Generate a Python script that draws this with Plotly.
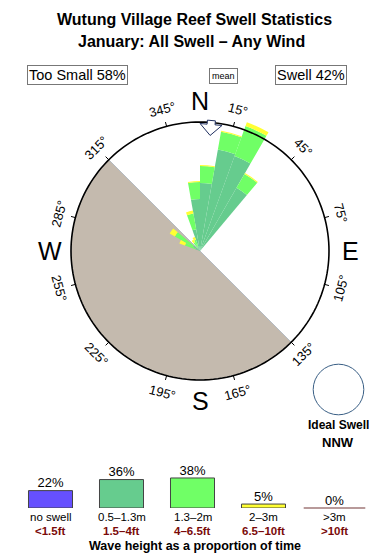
import math
import plotly.graph_objects as go

# ---------------- data ----------------
DIRS = [295, 305, 325, 335, 345, 355, 5, 15, 25, 35]          # bin centres (deg)
BIN_WIDTH = 10
BAND_05_13 = [0.5, 0.8, 0.4, 0.6, 2.2, 5.2, 6.8, 10.3, 10.1, 7.3]
BAND_13_2 = [1.1, 2.1, 0.6, 0.6, 1.6, 1.7, 1.7, 1.8, 3.2, 1.6]
BAND_2_3 = [0.6, 0.6, 0.3, 0.3, 0.3, 0.1, 0.1, 0.1, 0.4, 0.1]
BAND_NAMES = ["0.5–1.3m", "1.3–2m", "2–3m"]
BAND_COLORS = ["#66cc8e", "#70ff66", "#ffff33"]

CIRCLE_R = 12.9
R_MAX = 14.0
MEAN_DIR = 5
SHADE_CENTER, SHADE_WIDTH = 225, 180

TICK_ANGLES = [15, 45, 75, 105, 135, 165, 195, 225, 255, 285, 315, 345]
COMPASS = [("N", 0), ("E", 90), ("S", 180), ("W", 270)]

LEG_LABELS = ["no swell", "0.5–1.3m", "1.3–2m", "2–3m", ">3m"]
LEG_FT = ["&lt;1.5ft", "1.5–4ft", "4–6.5ft", "6.5–10ft", "&gt;10ft"]
LEG_PCT = [22, 36, 38, 5, 0]
LEG_COLORS = ["#6650ff", "#66cc8e", "#70ff66", "#ffff33", "#b89a9a"]

TOO_SMALL = 58
SWELL = 42
IDEAL = "NNW"

# ---------------- geometry ----------------
W, H = 390, 560
CX, CY = 200, 251
R_OUT_PX = 140
PX_PER_UNIT = R_OUT_PX / R_MAX
FONT = "Liberation Sans, Arial, sans-serif"


def px(x):
    return x / W


def py(y):
    return 1 - y / H


def polar_to_paper(theta, r_px):
    t = math.radians(theta)
    return px(CX + r_px * math.sin(t)), py(CY - r_px * math.cos(t))


fig = go.Figure()

# shaded (off-shore) sector
fig.add_trace(go.Barpolar(r=[CIRCLE_R], theta=[SHADE_CENTER], width=[SHADE_WIDTH],
                          marker=dict(color="#c4baae", line=dict(color="#aab4c0", width=0.8)),
                          hoverinfo="skip", showlegend=False))

# stacked rose bars
for vals, name, col in zip([BAND_05_13, BAND_13_2, BAND_2_3], BAND_NAMES, BAND_COLORS):
    fig.add_trace(go.Barpolar(r=vals, theta=DIRS, width=[BIN_WIDTH] * len(DIRS), name=name,
                              marker=dict(color=col, line=dict(width=0)), showlegend=False))

# outer circle
circ_theta = list(range(0, 361, 2))
fig.add_trace(go.Scatterpolar(r=[CIRCLE_R] * len(circ_theta), theta=circ_theta, mode="lines",
                              line=dict(color="black", width=1.6), hoverinfo="skip", showlegend=False))

# ticks
tr, tt = [], []
for a in TICK_ANGLES:
    tr += [CIRCLE_R, CIRCLE_R + 0.45, None]
    tt += [a, a, None]
fig.add_trace(go.Scatterpolar(r=tr, theta=tt, mode="lines", line=dict(color="black", width=1),
                              hoverinfo="skip", showlegend=False))

# mean direction arrow (along-radius px, lateral px)
arrow_local = [(131, -4), (131, 4), (127, 4), (127, 11), (116, 0), (127, -11), (127, -4), (131, -4)]
ar, at = [], []
for a, b in arrow_local:
    ar.append(math.hypot(a, b) / PX_PER_UNIT)
    at.append(MEAN_DIR + math.degrees(math.atan2(b, a)))
fig.add_trace(go.Scatterpolar(r=ar, theta=at, mode="lines", fill="toself", fillcolor="white",
                              line=dict(color="#1f2f5f", width=1), hoverinfo="skip", showlegend=False))

# legend bars
xs = list(range(len(LEG_PCT)))
fig.add_trace(go.Bar(x=xs, y=LEG_PCT, width=0.62, xaxis="x2", yaxis="y2",
                     marker=dict(color=LEG_COLORS, line=dict(color="#444444", width=1)),
                     showlegend=False, hoverinfo="skip"))
fig.add_trace(go.Scatter(x=[xs[-1]], y=[LEG_PCT[-1]], xaxis="x2", yaxis="y2", mode="markers",
                         marker=dict(symbol="line-ew", size=44, line=dict(color=LEG_COLORS[-1], width=2)),
                         showlegend=False, hoverinfo="skip", cliponaxis=False))
fig.add_trace(go.Scatter(x=xs, y=LEG_PCT, xaxis="x2", yaxis="y2", mode="text",
                         text=[f"{p}%" for p in LEG_PCT], textposition="top center",
                         textfont=dict(size=13, color="black", family=FONT),
                         showlegend=False, hoverinfo="skip", cliponaxis=False))

annotations = []


def ann(x, y, text, size, bold=False, color="black", **kw):
    t = f"<b>{text}</b>" if bold else text
    d = dict(x=x, y=y, xref=kw.pop("xref", "paper"), yref="paper", text=t, showarrow=False,
             font=dict(size=size, color=color, family=FONT), xanchor="center", yanchor="middle")
    d.update(kw)
    annotations.append(d)


ann(px(194), py(20), "Wutung Village Reef Swell Statistics", 16, bold=True)
ann(px(191), py(42), "January: All Swell – Any Wind", 16, bold=True)
ann(px(77), py(75), f"Too Small {TOO_SMALL}%", 14.5, bordercolor="#777777", borderwidth=1,
    borderpad=1, bgcolor="white")
ann(px(311), py(75), f"Swell {SWELL}%", 14.5, bordercolor="#777777", borderwidth=1,
    borderpad=1, bgcolor="white")
ann(px(224), py(76), "mean", 9, bordercolor="#777777", borderwidth=1, borderpad=2, bgcolor="white")

for a in TICK_ANGLES:
    x, y = polar_to_paper(a, 146)
    ang = a if (a < 90 or a > 270) else a - 180
    if ang > 180:
        ang -= 360
    ann(x, y, f"{a}°", 13, textangle=ang)

for lab, a in COMPASS:
    x, y = polar_to_paper(a, 150)
    ann(x, y, lab, 25)

ann(px(338), py(425), "Ideal Swell", 12, bold=True)
ann(px(338), py(442), IDEAL, 13, bold=True)

for i, (l, f) in enumerate(zip(LEG_LABELS, LEG_FT)):
    ann(i, py(517), l, 11.5, xref="x2")
    ann(i, py(531), f, 11.5, bold=True, color="#7a0a0a", xref="x2")
ann(px(195), py(546), "Wave height as a proportion of time", 12.5, bold=True)

fig.update_layout(
    width=W, height=H, margin=dict(l=0, r=0, t=0, b=0),
    paper_bgcolor="white", plot_bgcolor="white",
    font=dict(family=FONT),
    polar=dict(
        domain=dict(x=[px(CX - R_OUT_PX), px(CX + R_OUT_PX)],
                    y=[py(CY + R_OUT_PX), py(CY - R_OUT_PX)]),
        bgcolor="rgba(0,0,0,0)", barmode="stack",
        radialaxis=dict(range=[0, R_MAX], visible=False),
        angularaxis=dict(rotation=90, direction="clockwise", showline=False, showgrid=False,
                         showticklabels=False, ticks=""),
    ),
    xaxis2=dict(domain=[px(15), px(370)], range=[-0.5, 4.5], visible=False, anchor="y2"),
    yaxis2=dict(domain=[py(508), py(468.5)], range=[0, 50], visible=False, anchor="x2"),
    annotations=annotations,
    shapes=[dict(type="circle", xref="paper", yref="paper",
                 x0=px(338.5 - 25.3), x1=px(338.5 + 25.3),
                 y0=py(389.5 + 25.3), y1=py(389.5 - 25.3),
                 line=dict(color="#3a5f85", width=1))],
    showlegend=False,
)

fig.write_html("out.html")
